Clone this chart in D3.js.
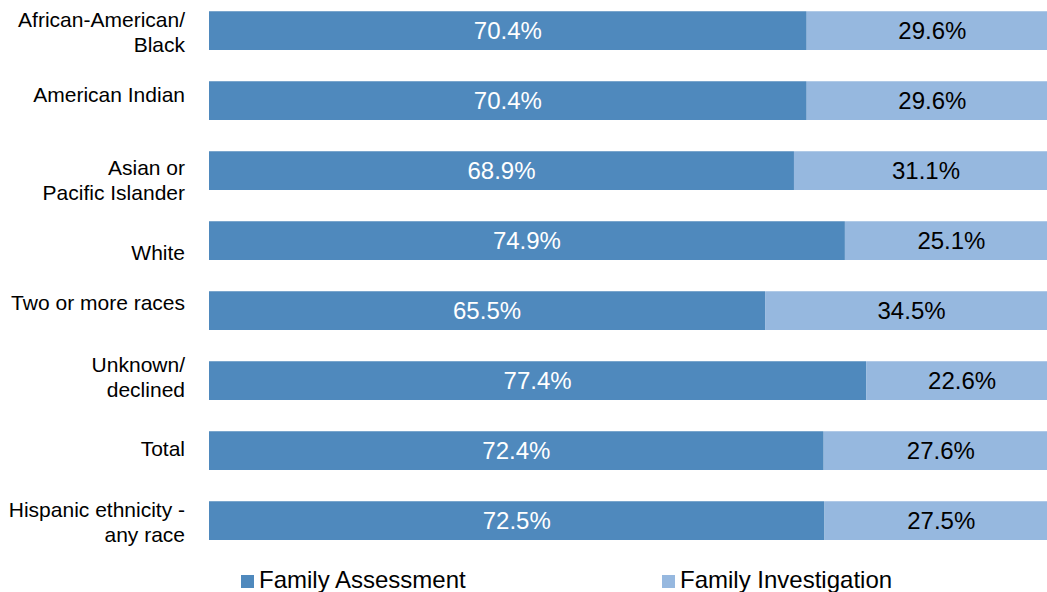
<!DOCTYPE html>
<html>
<head>
<meta charset="utf-8">
<script src="https://cdn.jsdelivr.net/npm/d3@7"></script>
<style>
  html, body { margin: 0; padding: 0; background: #fff; overflow: hidden; }
  svg { display: block; font-family: "Liberation Sans", Arial, sans-serif; }
</style>
</head>
<body>
<svg id="chart" width="1047" height="592"></svg>
<script>
// ---- data ----
const categories = [
  ["African-American/", "Black"],
  ["American Indian"],
  ["Asian or", "Pacific Islander"],
  ["White"],
  ["Two or more races"],
  ["Unknown/", "declined"],
  ["Total"],
  ["Hispanic ethnicity -", "any race"]
];
const familyAssessment    = [70.4, 70.4, 68.9, 74.9, 65.5, 77.4, 72.4, 72.5];
const familyInvestigation = [29.6, 29.6, 31.1, 25.1, 34.5, 22.6, 27.6, 27.5];
const seriesNames = ["Family Assessment", "Family Investigation"];

// ---- layout / style ----
const colors = ["#4F89BD", "#96B8DF"];
const labelColors = ["#ffffff", "#000000"];
const labelShift = [1.5, -6.5, 9.5, 11.5, -8.5, -3.5, -2.5, 1.5]; // category label vertical nudge (px)

const svg = d3.select("#chart");
const x = d3.scaleLinear().domain([0, 100]).range([209, 1058]);
const y = d3.scaleBand().domain(d3.range(categories.length)).range([11, 540]).paddingInner(0.443).paddingOuter(0);

const rows = categories.map((c, i) => ({
  i, label: c,
  segs: [
    { s: 0, x0: 0, x1: familyAssessment[i], v: familyAssessment[i] },
    { s: 1, x0: familyAssessment[i], x1: familyAssessment[i] + familyInvestigation[i], v: familyInvestigation[i] }
  ]
}));

const g = svg.append("g");
const row = g.selectAll("g.row").data(rows).join("g").attr("class", "row");

row.selectAll("rect.seg").data(d => d.segs.map(s => ({ ...s, i: d.i })))
  .join("rect").attr("class", "seg")
  .attr("x", d => x(d.x0))
  .attr("width", d => x(d.x1) - x(d.x0))
  .attr("y", d => y(d.i))
  .attr("height", y.bandwidth())
  .attr("fill", d => colors[d.s]);

// subtle top highlight
row.append("rect")
  .attr("x", x(0)).attr("width", x(100) - x(0))
  .attr("y", d => y(d.i)).attr("height", 1)
  .attr("fill", "#ffffff").attr("opacity", 0.25);

row.selectAll("text.val").data(d => d.segs.map(s => ({ ...s, i: d.i })))
  .join("text").attr("class", "val")
  .attr("x", d => (x(d.x0) + x(d.x1)) / 2)
  .attr("y", d => y(d.i) + y.bandwidth() / 2)
  .attr("dy", "0.36em")
  .attr("text-anchor", "middle")
  .attr("font-size", 24)
  .attr("fill", d => labelColors[d.s])
  .text(d => d.v.toFixed(1) + "%");

// category labels
row.each(function(d) {
  const n = d.label.length;
  const cy = y(d.i) + y.bandwidth() / 2 + labelShift[d.i];
  const lh = 24.5;
  const t = d3.select(this).append("text")
    .attr("text-anchor", "end")
    .attr("font-size", 21)
    .attr("fill", "#000");
  d.label.forEach((line, k) => {
    t.append("tspan")
      .attr("x", 185)
      .attr("y", cy + (k - (n - 1) / 2) * lh)
      .attr("dy", "0.36em")
      .text(line);
  });
});

// legend
const legendX = [241, 662];
const leg = svg.append("g").selectAll("g").data(seriesNames).join("g")
  .attr("transform", (d, i) => `translate(${legendX[i]},575)`);
leg.append("rect").attr("width", 13).attr("height", 13).attr("fill", (d, i) => colors[i]);
leg.append("text").attr("x", 18).attr("y", 12.5).attr("font-size", 24).attr("fill", "#000").text(d => d);
</script>
</body>
</html>
